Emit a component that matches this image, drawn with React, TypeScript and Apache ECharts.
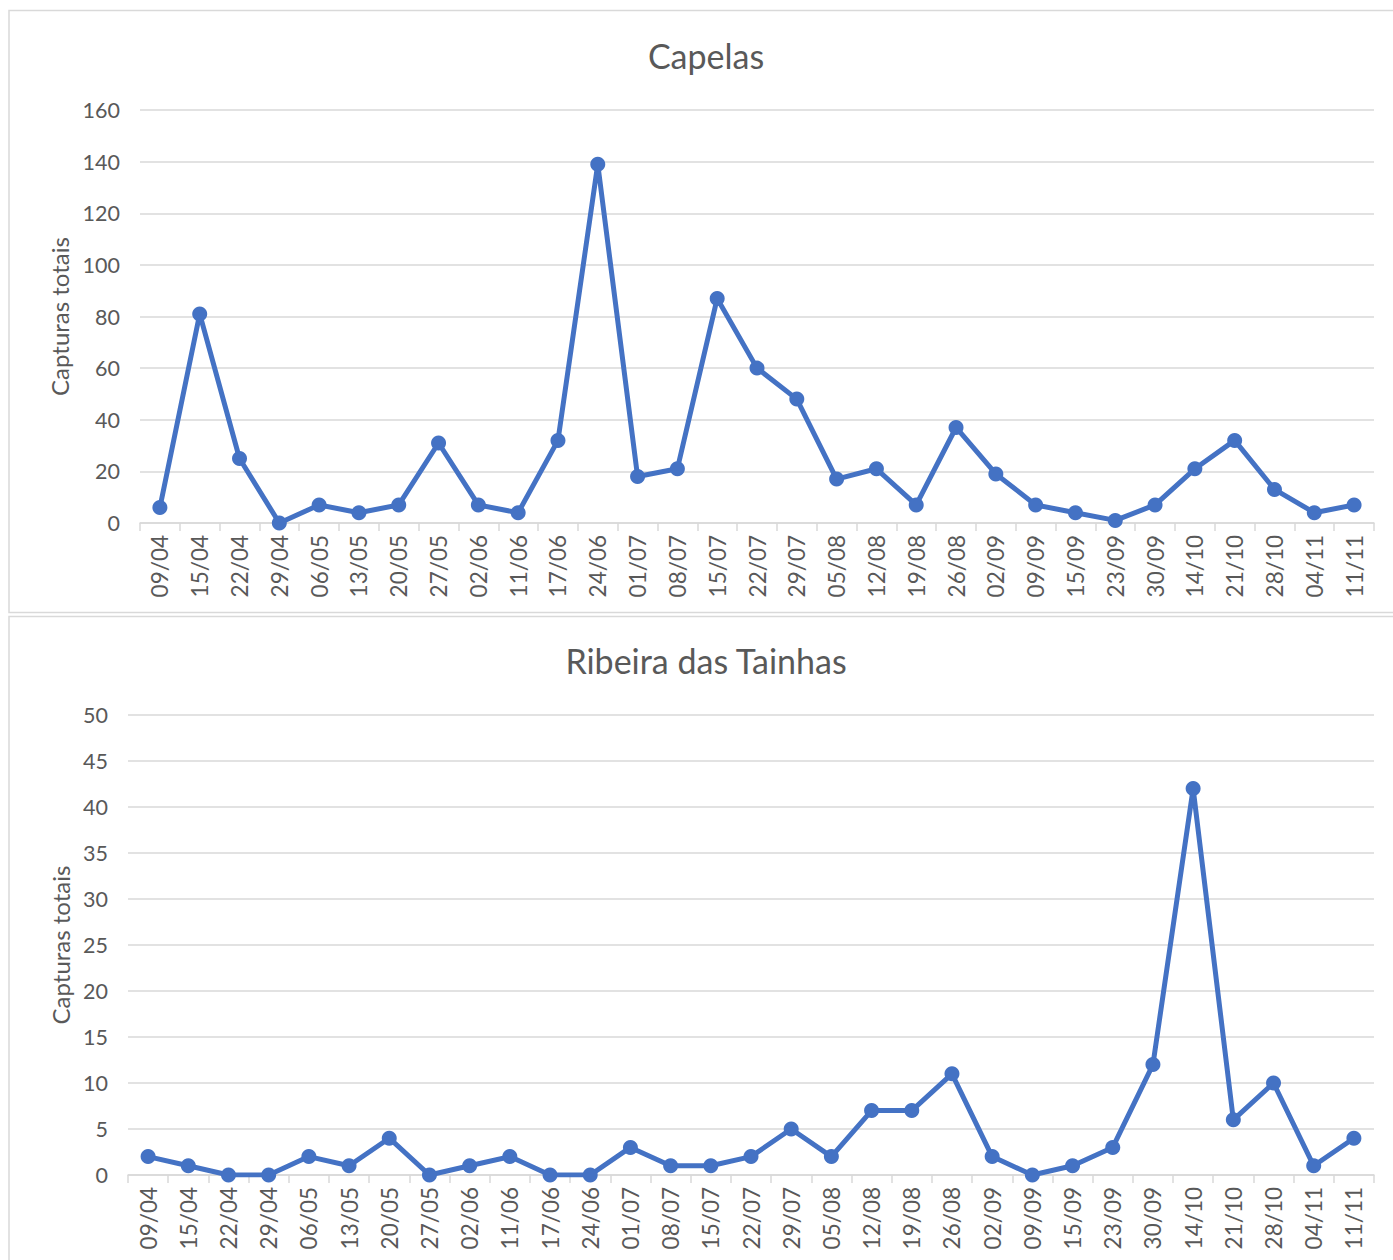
import React, { useEffect, useRef } from "react";
import * as echarts from "echarts";

const categories = [
  "09/04", "15/04", "22/04", "29/04", "06/05", "13/05", "20/05", "27/05", "02/06", "11/06",
  "17/06", "24/06", "01/07", "08/07", "15/07", "22/07", "29/07", "05/08", "12/08", "19/08",
  "26/08", "02/09", "09/09", "15/09", "23/09", "30/09", "14/10", "21/10", "28/10", "04/11", "11/11",
];

const capelasValues = [
  6, 81, 25, 0, 7, 4, 7, 31, 7, 4, 32, 139, 18, 21, 87, 60, 48, 17, 21, 7, 37, 19, 7, 4, 1, 7,
  21, 32, 13, 4, 7,
];

const ribeiraValues = [
  2, 1, 0, 0, 2, 1, 4, 0, 1, 2, 0, 0, 3, 1, 1, 2, 5, 2, 7, 7, 11, 2, 0, 1, 3, 12, 42, 6, 10, 1, 4,
];

const titles = ["Capelas", "Ribeira das Tainhas"];
const yAxisTitle = "Capturas totais";

const FONT = "Lato";
const TEXT = "#595959";
const GRID = "#d9d9d9";
const BLUE = "#4472C4";

export default function App() {
  const ref = useRef<HTMLDivElement>(null);

  useEffect(() => {
    if (!ref.current) return;
    const chart = echarts.init(ref.current, undefined, { renderer: "svg" });

    const xAxisBase = (gridIndex: number) => ({
      type: "category" as const,
      gridIndex,
      data: categories,
      boundaryGap: true,
      axisLine: { show: true, lineStyle: { color: GRID, width: 1.5 } },
      axisTick: { show: true, alignWithLabel: false, length: 8, lineStyle: { color: GRID, width: 1.5 } },
      axisLabel: {
        rotate: 90,
        interval: 0,
        margin: 12,
        color: TEXT,
        fontFamily: FONT,
        fontSize: 22.5,
      },
      splitLine: { show: false },
    });

    const yAxisBase = (gridIndex: number, max: number, interval: number, nameGap: number) => ({
      type: "value" as const,
      gridIndex,
      min: 0,
      max,
      interval,
      name: yAxisTitle,
      nameLocation: "middle" as const,
      nameGap,
      nameTextStyle: { color: TEXT, fontFamily: FONT, fontSize: 24 },
      axisLine: { show: false },
      axisTick: { show: false },
      axisLabel: { color: TEXT, fontFamily: FONT, fontSize: 21.5, margin: 20 },
      splitLine: { show: true, lineStyle: { color: GRID, width: 1.5 } },
    });

    const seriesBase = (idx: number, data: number[]) => ({
      type: "line" as const,
      xAxisIndex: idx,
      yAxisIndex: idx,
      data,
      symbol: "circle",
      symbolSize: 15,
      lineStyle: { color: BLUE, width: 5 },
      itemStyle: { color: BLUE },
      label: { show: false },
    });

    chart.setOption({
      animation: false,
      backgroundColor: "#ffffff",
      grid: [
        { left: 140, right: 19, top: 110, height: 413 },
        { left: 128, right: 19, top: 715, height: 460 },
      ],
      xAxis: [xAxisBase(0), xAxisBase(1)],
      yAxis: [yAxisBase(0, 160, 20, 66), yAxisBase(1, 50, 5, 54)],
      series: [seriesBase(0, capelasValues), seriesBase(1, ribeiraValues)],
      graphic: [
        {
          type: "rect",
          z: -10,
          shape: { x: 9, y: 10.5, width: 1400, height: 602 },
          style: { fill: "none", stroke: GRID, lineWidth: 1.5 },
          silent: true,
        },
        {
          type: "rect",
          z: -10,
          shape: { x: 9, y: 616.5, width: 1400, height: 660 },
          style: { fill: "none", stroke: GRID, lineWidth: 1.5 },
          silent: true,
        },
        {
          type: "text",
          x: 706,
          y: 55,
          style: {
            text: titles[0],
            fill: TEXT,
            font: `34px ${FONT}`,
            textAlign: "center",
            textVerticalAlign: "middle",
          },
        },
        {
          type: "text",
          x: 706,
          y: 660,
          style: {
            text: titles[1],
            fill: TEXT,
            font: `34px ${FONT}`,
            textAlign: "center",
            textVerticalAlign: "middle",
          },
        },
      ],
    });

    return () => chart.dispose();
  }, []);

  return (
    <div
      ref={ref}
      style={{ position: "absolute", left: 0, top: 0, width: 1393, height: 1260 }}
    />
  );
}
